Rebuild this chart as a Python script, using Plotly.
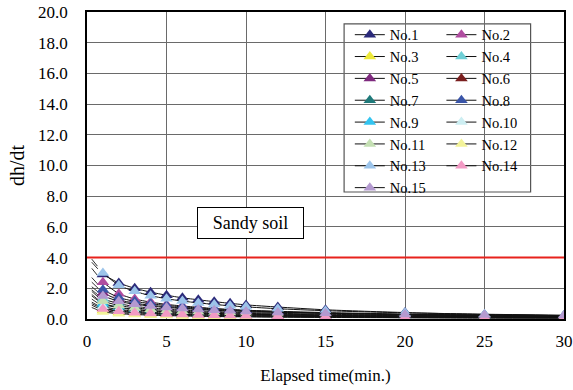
import plotly.graph_objects as go

# ---------------- data ----------------
times = [1, 2, 3, 4, 5, 6, 7, 8, 9, 10, 12, 15, 20, 25, 30]
names = ["No.1", "No.2", "No.3", "No.4", "No.5", "No.6", "No.7", "No.8",
         "No.9", "No.10", "No.11", "No.12", "No.13", "No.14", "No.15"]
colors = ["#2b2a7a", "#b04da0", "#ece83a", "#6fcfd6", "#7e2a7e", "#7a1f1f",
          "#1f7a7a", "#3a55a8", "#33c4f0", "#cdeef2", "#c5e0b4", "#f3f39a",
          "#9cc4ea", "#f29ac4", "#b49ad0"]

s1 = [2.9, 2.35, 2.0, 1.75, 1.55, 1.38, 1.25, 1.13, 1.02, 0.92, 0.78, 0.6, 0.42, 0.3, 0.22]
s2 = [2.4, 1.65, 1.3, 1.1, 0.95, 0.85, 0.76, 0.68, 0.62, 0.56, 0.48, 0.38, 0.28, 0.22, 0.18]
s3 = [0.55, 0.42, 0.35, 0.3, 0.26, 0.23, 0.21, 0.19, 0.17, 0.16, 0.14, 0.12, 0.09, 0.07, 0.06]
s4 = [1.3, 1.0, 0.82, 0.72, 0.64, 0.58, 0.53, 0.49, 0.45, 0.42, 0.37, 0.31, 0.24, 0.2, 0.17]
s5 = [1.7, 1.25, 1.03, 0.9, 0.8, 0.72, 0.65, 0.6, 0.56, 0.52, 0.45, 0.38, 0.29, 0.24, 0.2]
s6 = [0.7, 0.53, 0.44, 0.38, 0.34, 0.3, 0.28, 0.26, 0.24, 0.22, 0.2, 0.17, 0.13, 0.11, 0.09]
s7 = [0.95, 0.72, 0.6, 0.52, 0.46, 0.42, 0.38, 0.35, 0.33, 0.31, 0.27, 0.23, 0.18, 0.15, 0.13]
s8 = [1.9, 1.4, 1.15, 1.0, 0.88, 0.79, 0.72, 0.66, 0.61, 0.57, 0.5, 0.42, 0.32, 0.26, 0.22]
s9 = [1.0, 0.76, 0.63, 0.55, 0.49, 0.44, 0.4, 0.37, 0.34, 0.32, 0.28, 0.24, 0.19, 0.16, 0.13]
s10 = [0.8, 0.61, 0.51, 0.44, 0.39, 0.35, 0.32, 0.3, 0.28, 0.26, 0.23, 0.19, 0.15, 0.12, 0.1]
s11 = [1.15, 0.88, 0.73, 0.63, 0.56, 0.51, 0.46, 0.43, 0.4, 0.37, 0.32, 0.27, 0.21, 0.17, 0.14]
s12 = [0.45, 0.35, 0.29, 0.25, 0.22, 0.2, 0.18, 0.16, 0.15, 0.14, 0.12, 0.1, 0.08, 0.06, 0.05]
s13 = [3.0, 2.2, 1.8, 1.52, 1.32, 1.17, 1.05, 0.95, 0.86, 0.79, 0.67, 0.54, 0.4, 0.31, 0.25]
s14 = [0.65, 0.5, 0.41, 0.36, 0.32, 0.29, 0.26, 0.24, 0.22, 0.21, 0.18, 0.15, 0.12, 0.1, 0.08]
s15 = [1.5, 1.15, 0.96, 0.84, 0.75, 0.68, 0.62, 0.57, 0.53, 0.49, 0.43, 0.37, 0.3, 0.26, 0.22]
series = [s1, s2, s3, s4, s5, s6, s7, s8, s9, s10, s11, s12, s13, s14, s15]

# values of the fitted trend curves extended back to t = 0.3 (dashed part)
trend_t0 = 0.3
trend_start = [3.7, 3.3, 0.9, 1.9, 2.4, 1.1, 1.5, 2.7, 1.6, 1.3, 1.8, 0.75, 3.9, 1.0, 2.1]

threshold = 4.0
soil_label = "Sandy soil"

FONT = "Liberation Serif"

fig = go.Figure()

for i, (nm, col, ys) in enumerate(zip(names, colors, series)):
    fig.add_trace(go.Scatter(
        x=[trend_t0, times[0]], y=[trend_start[i], ys[0]], mode="lines",
        line=dict(color="#333333", width=1, dash="dash"),
        showlegend=False, hoverinfo="skip"))

for i, (nm, col, ys) in enumerate(zip(names, colors, series)):
    fig.add_trace(go.Scatter(
        x=times, y=ys, name=nm, mode="lines+markers",
        line=dict(color="#111111", width=1, shape="spline", smoothing=0.6),
        marker=dict(symbol="triangle-up", size=11, color=col, line=dict(width=0)),
        legend="legend" if i % 2 == 0 else "legend2"))

fig.add_shape(type="line", xref="x", yref="y", x0=0, x1=30, y0=threshold, y1=threshold,
              line=dict(color="#e8221c", width=2), layer="above")

# legend frame
fig.add_shape(type="rect", xref="paper", yref="paper", x0=0.539, x1=0.93, y0=0.4137, y1=0.961,
              line=dict(color="#555555", width=1.2), fillcolor="white", layer="below")

fig.add_annotation(x=10.3, y=6.25, xref="x", yref="y", text=soil_label, showarrow=False,
                   font=dict(family=FONT, size=18, color="black"),
                   bordercolor="black", borderwidth=1, borderpad=5, bgcolor="white",
                   width=95)

leg_common = dict(font=dict(family=FONT, size=14.5, color="black"), bgcolor="rgba(0,0,0,0)",
                  borderwidth=0, xanchor="left", yanchor="top", tracegroupgap=0,
                  itemwidth=30)

fig.update_layout(
    width=573, height=390,
    margin=dict(l=87, r=9, t=12, b=71, autoexpand=False),
    paper_bgcolor="white", plot_bgcolor="white",
    font=dict(family=FONT, color="black"),
    legend=dict(x=0.551, y=0.978, **leg_common),
    legend2=dict(x=0.743, y=0.978, **leg_common),
    xaxis=dict(range=[0, 30], dtick=5, tick0=0, showgrid=True, gridcolor="#6a6a6a", gridwidth=1,
               showline=True, linecolor="black", linewidth=1.5, mirror=True, zeroline=False,
               automargin=False, ticklabelstandoff=6, ticklabeloverflow="allow",
               tickfont=dict(family=FONT, size=17), ticks="",
               title=dict(text="Elapsed time(min.)", font=dict(family=FONT, size=17), standoff=19)),
    yaxis=dict(range=[0, 20], dtick=2, tick0=0, tickformat=".1f", showgrid=True,
               gridcolor="#6a6a6a", gridwidth=1, automargin=False, ticklabelstandoff=14,
               ticklabeloverflow="allow",
               showline=True, linecolor="black", linewidth=1.5, mirror=True, zeroline=False,
               tickfont=dict(family=FONT, size=17), ticks="",
               title=dict(text="dh/dt", font=dict(family=FONT, size=20), standoff=8)),
)

fig.write_html("out.html")
